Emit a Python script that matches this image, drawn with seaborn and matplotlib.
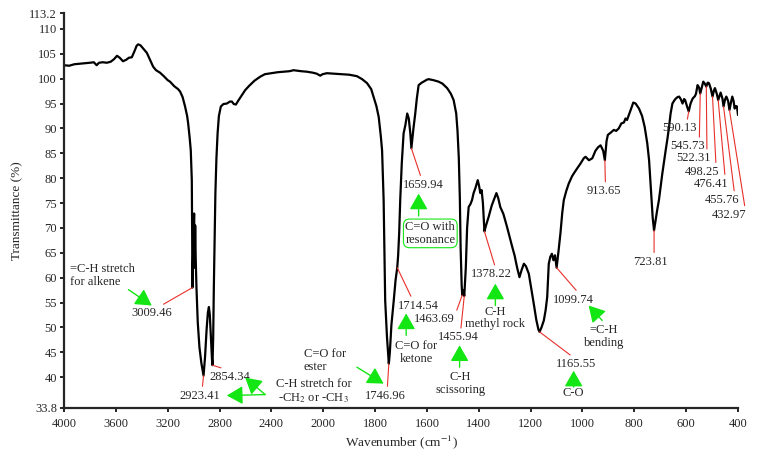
import numpy as np
import pandas as pd
import matplotlib
matplotlib.use("Agg")
import matplotlib.pyplot as plt
import seaborn as sns

# ====================
# SPECTRUM
# ====================
wavenumber = [
    4000, 3960, 3920, 3880, 3840, 3800, 3770, 3748, 3730, 3700, 3670, 3640, 3615, 3591,
    3570, 3545, 3520, 3500, 3477, 3455, 3440, 3428, 3410, 3390, 3361, 3340, 3312, 3290,
    3259, 3230, 3200, 3182, 3150, 3120, 3104, 3085, 3066, 3050, 3042, 3030, 3022, 3014,
    3011, 3009.46, 3005, 3000, 2996, 2992, 2988, 2984, 2978, 2968, 2955, 2940, 2923.41,
    2912, 2900, 2890, 2882, 2875, 2866, 2858, 2854.34, 2849, 2844, 2838, 2832, 2824, 2815,
    2805, 2790, 2770, 2744, 2720, 2705, 2690, 2674, 2655, 2630, 2602, 2570, 2530, 2486,
    2450, 2400, 2350, 2300, 2260, 2229, 2200, 2170, 2126, 2080, 2050, 2023, 2005, 1986,
    1960, 1930, 1900, 1870, 1850, 1831, 1815, 1806, 1795, 1786, 1778, 1773, 1767, 1761,
    1754, 1746.96, 1743, 1737, 1728, 1721, 1714.54, 1711, 1707, 1703, 1697, 1690, 1683,
    1676, 1670, 1664, 1659.94, 1652, 1645, 1639, 1632, 1620, 1613, 1600, 1593, 1575, 1555,
    1540, 1522, 1508, 1497, 1487, 1482, 1477, 1473, 1470, 1466, 1463.69, 1460, 1455.94,
    1450, 1445, 1439, 1432, 1426, 1420, 1413, 1404, 1399, 1394, 1389, 1384, 1378.22, 1372,
    1362, 1350, 1342, 1332, 1325, 1317, 1305, 1291, 1280, 1271, 1262, 1252, 1243, 1235,
    1226, 1218, 1207, 1198, 1188, 1178, 1170, 1165.55, 1158, 1149, 1142, 1136, 1130, 1124,
    1118, 1112, 1106, 1099.74, 1092, 1085, 1078, 1072, 1062, 1053, 1040, 1034, 1020, 1008,
    995, 988, 975, 962, 950, 940, 930, 920, 913.65, 907, 902, 890, 879, 870, 860, 850, 840,
    834, 828, 821, 812, 804, 795, 782, 770, 760, 750, 743, 735, 729, 723.81, 718, 712, 705,
    698, 692, 685, 679, 672, 666, 660, 653, 646, 640, 633, 627, 620, 614, 608, 604, 597,
    590.13, 583, 575, 566, 562, 556, 550, 545.73, 540, 534, 528, 522.31, 517, 512, 505,
    498.25, 493, 489, 482, 476.41, 471, 467, 460, 455.76, 450, 445, 438, 432.97, 426, 422,
    417, 413, 408, 404, 400,
]
transmittance = [
    102.7, 102.6, 102.9, 103.0, 103.1, 103.2, 103.3, 102.7, 103.2, 103.3, 103.2, 103.4, 103.9, 104.6,
    104.2, 103.5, 103.8, 104.2, 104.3, 105.6, 106.6, 106.9, 106.7, 106.1, 105.2, 104.0, 102.4, 101.7,
    101.2, 100.5, 99.7, 99.4, 98.5, 97.9, 97.4, 96.3, 94.4, 92.5, 91.0, 88.0, 85.6, 79.6,
    68.0, 58.0, 63.0, 70.0, 72.9, 62.0, 70.5, 64.0, 58.0, 51.0, 46.0, 42.8, 40.3,
    44.0, 49.5, 53.0, 54.1, 52.5, 47.5, 43.5, 42.4, 48.0, 58.0, 68.0, 77.0, 84.0, 89.0,
    92.5, 94.4, 94.9, 95.0, 95.4, 95.4, 94.9, 94.8, 95.6, 96.6, 97.7, 98.6, 99.6, 100.4,
    100.9, 101.1, 101.3, 101.4, 101.5, 101.7, 101.6, 101.5, 101.4, 101.2, 101.0, 100.6, 100.9, 101.1,
    101.0, 100.9, 100.8, 100.5, 99.9, 99.1, 97.9, 96.4, 94.5, 92.3, 88.5, 85.6, 75.6, 55.4,
    48.0, 42.7, 45.0, 50.5, 55.4, 59.5, 62.0, 64.5, 69.0, 75.6, 83.0, 89.0, 90.7,
    93.0, 92.0, 89.0, 86.0, 90.0, 93.0, 96.0, 98.7, 99.2, 99.4, 99.8, 99.9, 99.7, 99.4,
    99.0, 98.1, 97.0, 95.7, 93.0, 89.5, 84.0, 76.0, 66.0, 58.5, 56.5, 57.5, 56.3,
    62.0, 70.0, 74.2, 74.8, 75.6, 77.0, 78.0, 79.6, 78.5, 77.0, 77.6, 75.0, 69.3, 70.5,
    72.2, 74.5, 75.6, 77.0, 76.0, 74.2, 72.8, 70.2, 68.0, 66.2, 64.5, 62.0, 60.1, 61.5,
    62.8, 62.3, 60.8, 58.0, 54.8, 51.5, 49.6, 49.1, 50.0, 51.4, 53.5, 56.1, 62.8, 64.2,
    64.8, 63.5, 64.5, 62.0, 65.5, 68.9, 73.0, 75.6, 77.5, 78.9, 80.4, 80.9, 82.0, 82.9,
    84.0, 84.3, 83.6, 84.0, 85.5, 86.2, 86.6, 85.5, 83.6, 87.5, 88.7, 89.2, 89.7, 89.5, 90.0, 91.0, 91.2,
    92.0, 91.7, 92.7, 94.0, 95.2, 95.0, 94.0, 92.5, 90.3, 87.0, 83.6, 77.0, 72.0, 69.5, 71.5, 73.5, 75.6,
    78.5, 80.9, 83.5, 85.6, 88.0, 90.3, 93.0, 95.0, 95.6, 96.0, 96.3, 96.4, 95.8, 95.0, 95.9, 95.7, 94.5,
    93.4, 95.0, 96.0, 96.5, 97.0, 98.7, 98.2, 97.0, 98.2, 99.4, 99.0, 98.4, 99.2, 99.1, 98.0,
    96.4, 97.6, 98.1, 97.0, 95.7, 96.6, 97.2, 96.0, 94.4, 95.8, 96.4, 95.5, 93.7, 95.5, 96.4,
    95.5, 94.0, 94.5, 94.4, 92.7,
]

x_ticks = [4000, 3600, 3200, 2800, 2400, 2000, 1800, 1600, 1400, 1200, 1000, 800, 600, 400]
y_ticks = [33.8, 40, 45, 50, 55, 60, 65, 70, 75, 80, 85, 90, 95, 100, 105, 110, 113.2]
y_tick_labels = ["33.8", "40", "45", "50", "55", "60", "65", "70", "75", "80", "85",
                 "90", "95", "100", "105", "110", "113.2"]

# peak labels: wavenumber, label position, where the red line leaves the label
peaks = [3009.46, 2923.41, 2854.34, 1746.96, 1714.54, 1659.94, 1463.69, 1455.94,
         1378.22, 1165.55, 1099.74, 913.65, 723.81, 590.13, 545.73, 522.31, 498.25,
         476.41, 455.76, 432.97]
peak_label_pos = [(3323, 52.8), (2950, 36.3), (2724, 40.0), (1761, 36.3), (1632, 54.4),
                  (1613, 78.7), (1573, 51.6), (1478, 48.0), (1351, 60.7), (1023, 42.6),
                  (1037, 55.6), (918, 77.4), (737, 63.2), (624, 90.0), (596, 86.4),
                  (573, 84.0), (538, 81.3), (503, 78.9), (460, 75.6), (435, 72.6)]
peak_relpos = [(0.65, 1), (0.55, 1), (0.55, 1), (0.55, 1), (0.35, 1), (0.45, 1),
               (1.0, 0.7), (0.55, 1), (0.6, 1), (0.45, 1), (0.65, 1), (0.55, 1),
               (0.6, 1), (0.7, 1), (0.85, 1), (0.9, 1), (0.9, 1), (0.9, 1),
               (0.85, 1), (0.97, 1)]

# assignments (green arrows)
assign_text = ["C-H stretch for\n-CH$_2$ or -CH$_3$", "C=O for\nketone", "C-H\nscissoring",
               "C-H\nmethyl rock", "C-O", "=C-H\nbending"]
assign_pos = [(2075, 37.1), (1642, 45.0), (1471, 38.7), (1336, 51.9), (1034, 36.8), (918, 48.2)]

arrow_tail = [(3503, 57.6), (2448, 36.5), (2448, 36.5), (1870, 42.0), (1680, 48.4),
              (1632, 72.4), (1474, 42.0), (1336, 54.4), (1034, 38.0), (924, 51.4)]
arrow_head = [(3323, 54.4), (2744, 36.3), (2602, 39.9), (1767, 38.7), (1680, 52.8),
              (1632, 76.9), (1474, 46.4), (1336, 58.8), (1034, 41.3), (976, 54.4)]

RED = "#e8302a"
GREEN = "#14e614"

df = pd.DataFrame({"wavenumber": wavenumber, "transmittance": transmittance})

sns.set_style("ticks")
plt.rcParams["font.family"] = ["Liberation Serif", "DejaVu Serif"]
plt.rcParams["mathtext.fontset"] = "stix"

fig = plt.figure(figsize=(7.58, 4.54), dpi=100)
ax = fig.add_axes([64 / 758, 1 - 408 / 454, 674 / 758, 395 / 454])

sns.lineplot(data=df, x="wavenumber", y="transmittance", ax=ax, color="black",
             lw=1.6, sort=False, estimator=None)


# x axis is expanded 2x below 2000 cm-1
def fwd(x):
    x = np.asarray(x, dtype=float)
    return np.where(x > 2000, 2000 + (x - 2000) / 2, x)


def inv(y):
    y = np.asarray(y, dtype=float)
    return np.where(y > 2000, 2000 + (y - 2000) * 2, y)


ax.set_xscale("function", functions=(fwd, inv))
ax.set_xlim(4000, 400)
ax.set_ylim(33.8, 113.2)
ax.set_xticks(x_ticks)
ax.set_xticklabels([str(t) for t in x_ticks])
ax.xaxis.set_minor_locator(matplotlib.ticker.NullLocator())
ax.set_yticks(y_ticks)
ax.set_yticklabels(y_tick_labels)

sns.despine(ax=ax)
for s in ["left", "bottom"]:
    ax.spines[s].set_linewidth(1.6)
ax.tick_params(axis="both", labelsize=9, length=3, width=1.2, color="black")
ax.tick_params(axis="x", pad=4)
ax.tick_params(axis="y", pad=2)

ax.set_xlabel("Wavenumber (cm$^{-1}$)", fontsize=9.5, labelpad=3)
ax.set_ylabel("Transmittance (%)", fontsize=9.5, labelpad=4)

# ====================
# PEAK LABELS
# ====================
w_asc = np.array(wavenumber)[::-1]
t_asc = np.array(transmittance)[::-1]
for pk, pos, rp in zip(peaks, peak_label_pos, peak_relpos):
    ax.annotate(f"{pk:.2f}", xy=(pk, np.interp(pk, w_asc, t_asc)), xytext=pos,
                ha="center", va="center", fontsize=9, annotation_clip=False,
                arrowprops=dict(arrowstyle="-", color=RED, lw=0.8,
                                shrinkA=0, shrinkB=0, relpos=rp))

# ====================
# ASSIGNMENTS
# ====================
ax.text(3954, 60.5, "=C-H stretch\nfor alkene", ha="left", va="center", fontsize=9,
        linespacing=1.1)
ax.text(2152, 43.4, "C=O for\nester", ha="left", va="center", fontsize=9, linespacing=1.1)
for txt, pos in zip(assign_text, assign_pos):
    ax.text(pos[0], pos[1], txt, ha="center", va="center", fontsize=9, linespacing=1.1)
ax.text(1587, 68.9, "C=O with\nresonance", ha="center", va="center", fontsize=9,
        linespacing=1.1,
        bbox=dict(boxstyle="round,pad=0.15,rounding_size=0.5", fc="white", ec=GREEN, lw=0.8))

for tail, head in zip(arrow_tail, arrow_head):
    ax.annotate("", xy=head, xytext=tail, annotation_clip=False,
                arrowprops=dict(arrowstyle="-|>,head_length=0.7,head_width=0.4",
                                color=GREEN, lw=1.0, mutation_scale=14,
                                shrinkA=0, shrinkB=0))

plt.savefig("out.png", dpi=100)
plt.close()
